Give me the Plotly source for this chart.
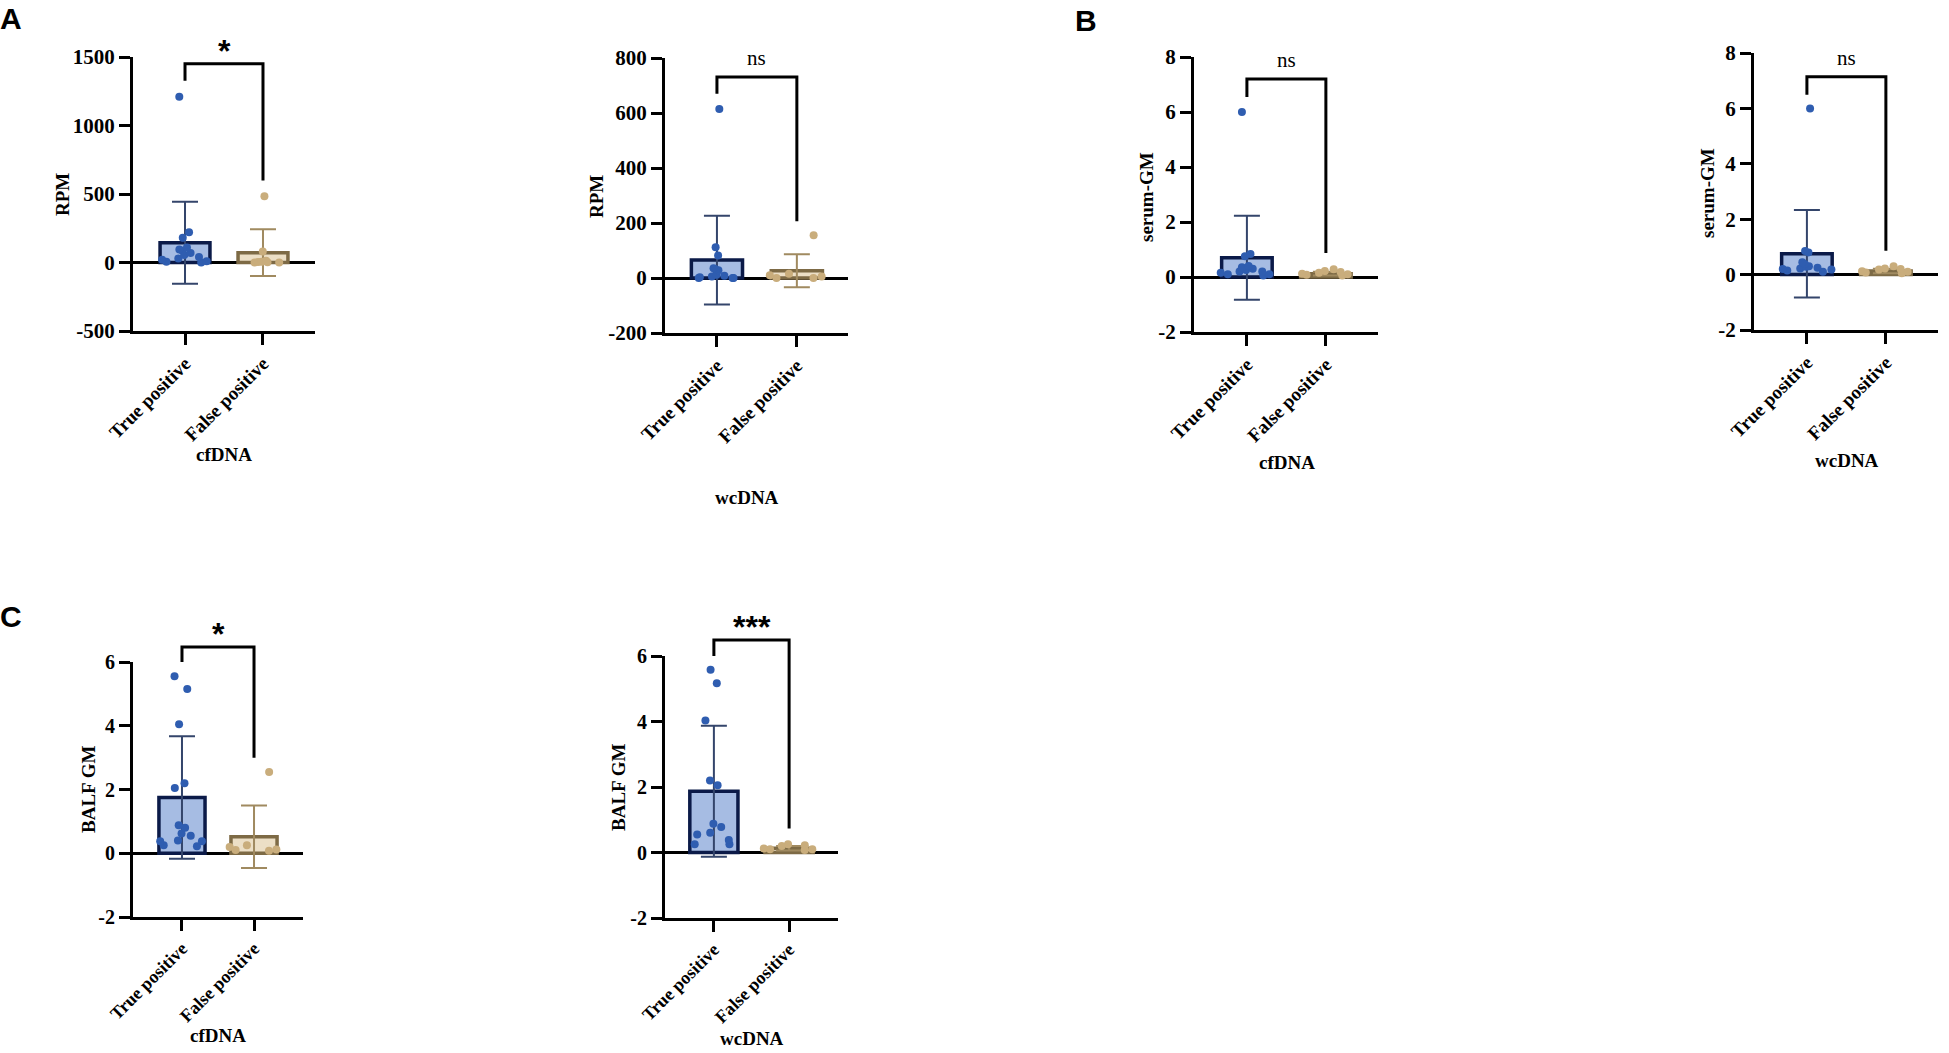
import plotly.graph_objects as go

W, H = 1949, 1053

categories = ["True positive", "False positive"]

# ---- Panel A: RPM ----
rpm_ticks = [-500, 0, 500, 1000, 1500]
rpm_cf_tp = [1210, 221, 180, 110, 95, 85, 70, 55, 40, 30, 20, 10, 5, 0]
rpm_cf_fp = [483, 80, 12, 6, 4, 2, 0, 0]
rpm_cf_mean = [144, 72]
rpm_cf_sd = [300, 170]

rpm_wc_ticks = [-200, 0, 200, 400, 600, 800]
rpm_wc_tp = [615, 112, 82, 35, 32, 28, 12, 8, 5, 3, 0, 0, 0]
rpm_wc_fp = [155, 15, 10, 5, 0, 0]
rpm_wc_mean = [65, 26]
rpm_wc_sd = [161, 60]

# ---- Panel B: serum-GM ----
sgm_ticks = [-2, 0, 2, 4, 6, 8]
sgm_cf_tp = [6.0, 0.84, 0.75, 0.4, 0.35, 0.3, 0.3, 0.25, 0.2, 0.2, 0.15, 0.1, 0.1, 0.05]
sgm_cf_fp = [0.28, 0.22, 0.18, 0.15, 0.12, 0.1, 0.08, 0.05]
sgm_cf_mean = [0.70, 0.12]
sgm_cf_sd = [1.53, 0.07]

sgm_wc_tp = [6.0, 0.85, 0.8, 0.45, 0.38, 0.3, 0.28, 0.25, 0.22, 0.2, 0.18, 0.15, 0.1]
sgm_wc_fp = [0.3, 0.22, 0.2, 0.18, 0.12, 0.1, 0.08, 0.05]
sgm_wc_mean = [0.75, 0.13]
sgm_wc_sd = [1.58, 0.08]

# ---- Panel C: BALF GM ----
balf_ticks = [-2, 0, 2, 4, 6]
balf_cf_tp = [5.55, 5.15, 4.05, 2.2, 2.05, 0.88, 0.8, 0.62, 0.55, 0.4, 0.38, 0.38, 0.25, 0.22]
balf_cf_fp = [2.55, 0.25, 0.2, 0.12, 0.1, 0.08]
balf_cf_mean = [1.75, 0.52]
balf_cf_sd = [1.92, 0.98]

balf_wc_tp = [5.58, 5.17, 4.03, 2.2, 2.05, 0.88, 0.78, 0.6, 0.55, 0.38, 0.25, 0.25]
balf_wc_fp = [0.25, 0.22, 0.2, 0.12, 0.1, 0.1, 0.08]
balf_wc_mean = [1.87, 0.13]
balf_wc_sd = [2.0, 0.07]

significance = ["*", "ns", "ns", "ns", "*", "***"]

# ---- styles ----
SERIF = "Liberation Serif"
TP_PT = "#2f5db0"
FP_PT = "#c9ad7c"
TP_FILL = "#a6bce3"
TP_EDGE = "#0b1a48"
FP_FILL = "#ecdfc6"
FP_EDGE = "#7d6a45"
TP_ERR = "#34456b"
FP_ERR = "#a08a60"

panels = [
    dict(tp=rpm_cf_tp, fp=rpm_cf_fp, mean=rpm_cf_mean, sd=rpm_cf_sd, ticks=rpm_ticks,
         ytitle="RPM", xtitle="cfDNA",
         px=(133, 315), py=(57, 331), xr=(-0.667, 1.667),
         bracket=(1451, 1327, 598), ytpos=(63, 195), xtpos=(224, 455), fs=20),
    dict(tp=rpm_wc_tp, fp=rpm_wc_fp, mean=rpm_wc_mean, sd=rpm_wc_sd, ticks=rpm_wc_ticks,
         ytitle="RPM", xtitle="wcDNA",
         px=(665, 848), py=(58, 333), xr=(-0.65, 1.64),
         bracket=(731, 670, 206), ytpos=(597, 197), xtpos=(747, 498), fs=20),
    dict(tp=sgm_cf_tp, fp=sgm_cf_fp, mean=sgm_cf_mean, sd=sgm_cf_sd, ticks=sgm_ticks,
         ytitle="serum-GM", xtitle="cfDNA",
         px=(1194, 1378), py=(57, 332), xr=(-0.67, 1.66),
         bracket=(7.2, 6.55, 0.87), ytpos=(1147, 197), xtpos=(1287, 462), fs=20),
    dict(tp=sgm_wc_tp, fp=sgm_wc_fp, mean=sgm_wc_mean, sd=sgm_wc_sd, ticks=sgm_ticks,
         ytitle="serum-GM", xtitle="wcDNA",
         px=(1754, 1938), py=(53, 330), xr=(-0.67, 1.66),
         bracket=(7.14, 6.49, 0.86), ytpos=(1707, 193), xtpos=(1847, 460), fs=20),
    dict(tp=balf_cf_tp, fp=balf_cf_fp, mean=balf_cf_mean, sd=balf_cf_sd, ticks=balf_ticks,
         ytitle="BALF GM", xtitle="cfDNA",
         px=(133, 303), py=(662, 917), xr=(-0.68, 1.68),
         bracket=(6.47, 6.0, 3.0), ytpos=(88, 790), xtpos=(218, 1035), fs=19),
    dict(tp=balf_wc_tp, fp=balf_wc_fp, mean=balf_wc_mean, sd=balf_wc_sd, ticks=balf_ticks,
         ytitle="BALF GM", xtitle="wcDNA",
         px=(665, 838), py=(656, 918), xr=(-0.65, 1.65),
         bracket=(6.49, 6.0, 0.73), ytpos=(618, 788), xtpos=(752, 1038), fs=19),
]

fig = go.Figure()
layout = dict(
    width=W, height=H, margin=dict(l=0, r=0, t=0, b=0, pad=0, autoexpand=False),
    paper_bgcolor="white", plot_bgcolor="white",
    showlegend=False, barmode="overlay", boxmode="overlay",
    shapes=[], annotations=[],
)

def bold(size):
    return dict(family=SERIF, size=size, color="black", weight="bold")

for i, p in enumerate(panels):
    n = i + 1
    xa = "x" if n == 1 else f"x{n}"
    ya = "y" if n == 1 else f"y{n}"
    xkey = "xaxis" if n == 1 else f"xaxis{n}"
    ykey = "yaxis" if n == 1 else f"yaxis{n}"
    yr = (min(p["ticks"]), max(p["ticks"]))

    layout[xkey] = dict(
        domain=[p["px"][0] / W, p["px"][1] / W], anchor=ya, range=list(p["xr"]),
        showline=True, linecolor="black", linewidth=3, showgrid=False, zeroline=False,
        tickmode="array", tickvals=[0, 1], ticktext=categories, tickangle=-45,
        ticks="outside", ticklen=11, tickwidth=3, tickcolor="black",
        tickfont=bold(p["fs"] - 1), fixedrange=True, automargin=False,
    )
    layout[ykey] = dict(
        domain=[1 - p["py"][1] / H, 1 - p["py"][0] / H], anchor=xa, range=list(yr),
        showline=True, linecolor="black", linewidth=3, showgrid=False,
        zeroline=True, zerolinecolor="black", zerolinewidth=3,
        tickmode="array", tickvals=p["ticks"], ticktext=[str(t) for t in p["ticks"]],
        ticks="outside", ticklen=11, tickwidth=3, tickcolor="black",
        tickfont=bold(p["fs"] + 1), fixedrange=True, automargin=False,
    )

    # bars (mean) with SD error bars
    for k, (fill, edge, errc) in enumerate([(TP_FILL, TP_EDGE, TP_ERR), (FP_FILL, FP_EDGE, FP_ERR)]):
        fig.add_trace(go.Bar(
            x=[k], y=[p["mean"][k]], width=0.64, xaxis=xa, yaxis=ya,
            marker=dict(color=fill, line=dict(color=edge, width=3.5)),
            error_y=dict(type="data", array=[p["sd"][k]], symmetric=True,
                         color=errc, thickness=2, width=13),
            hoverinfo="skip",
        ))
    # individual points
    for k, (vals, col) in enumerate([(p["tp"], TP_PT), (p["fp"], FP_PT)]):
        fig.add_trace(go.Box(
            x=[k] * len(vals), y=vals, xaxis=xa, yaxis=ya,
            boxpoints="all", jitter=1.0, pointpos=0, width=0.8,
            fillcolor="rgba(0,0,0,0)", line=dict(color="rgba(0,0,0,0)", width=0),
            marker=dict(color=col, size=8, line=dict(width=0)),
            hoverinfo="skip",
        ))

    # significance bracket (in axis-domain coordinates)
    y0, y1 = yr
    x0, x1 = p["xr"]
    fy = lambda v: (v - y0) / (y1 - y0)
    fx = lambda v: (v - x0) / (x1 - x0)
    top, lb, rb = p["bracket"]
    layout["shapes"].append(dict(
        type="path", xref=f"{xa} domain", yref=f"{ya} domain",
        path=f"M {fx(0)} {fy(lb)} L {fx(0)} {fy(top)} L {fx(1)} {fy(top)} L {fx(1)} {fy(rb)}",
        line=dict(color="black", width=3),
    ))
    sig = significance[i]
    if sig == "ns":
        layout["annotations"].append(dict(
            text="ns", xref=f"{xa} domain", yref=f"{ya} domain", x=fx(0.5), y=fy(top),
            xanchor="center", yanchor="bottom", yshift=5, showarrow=False,
            font=dict(family=SERIF, size=21, color="black"),
        ))
    else:
        layout["annotations"].append(dict(
            text=sig, xref=f"{xa} domain", yref=f"{ya} domain", x=fx(0.5), y=fy(top),
            xanchor="center", yanchor="bottom", yshift=-7, showarrow=False,
            font=dict(family="Liberation Sans", size=32, color="black", weight="bold"),
        ))

    # axis titles
    layout["annotations"].append(dict(
        text=p["ytitle"], xref="paper", yref="paper",
        x=p["ytpos"][0] / W, y=1 - p["ytpos"][1] / H, xanchor="center", yanchor="middle",
        textangle=-90, showarrow=False, font=bold(19),
    ))
    layout["annotations"].append(dict(
        text=p["xtitle"], xref="paper", yref="paper",
        x=p["xtpos"][0] / W, y=1 - p["xtpos"][1] / H, xanchor="center", yanchor="middle",
        showarrow=False, font=bold(19),
    ))

# panel letters
for letter, (lx, ly) in [("A", (11, 0)), ("B", (1086, 2)), ("C", (11, 598))]:
    layout["annotations"].append(dict(
        text=letter, xref="paper", yref="paper", x=lx / W, y=1 - ly / H,
        xanchor="center", yanchor="top", showarrow=False,
        font=dict(family="Liberation Sans", size=30, color="black", weight="bold"),
    ))

fig.update_layout(**layout)
# let the figure sit flush in the browser window (no default page margin), no modebar
fig.write_html("out.html", config={"displayModeBar": False},
               post_script="document.body.style.margin='0';")
